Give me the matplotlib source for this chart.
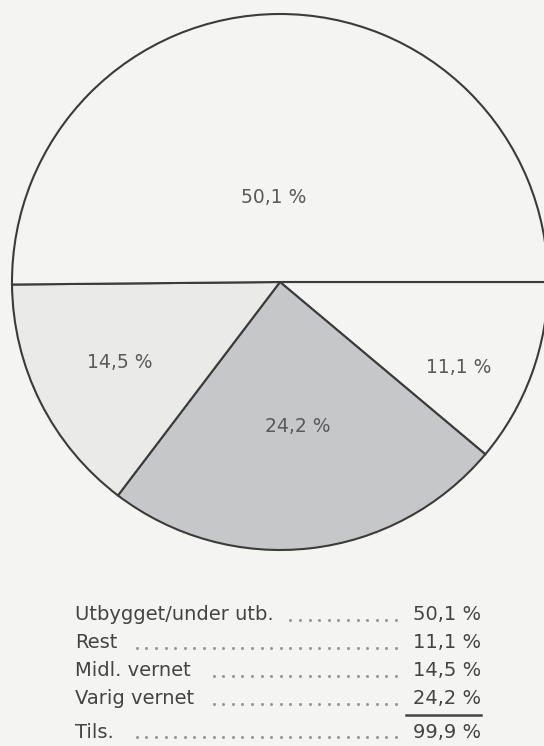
import numpy as np
import matplotlib
matplotlib.use("Agg")
import matplotlib.pyplot as plt

# shares in the order of the table under the pie
categories = ["Utbygget/under utb.", "Rest", "Midl. vernet", "Varig vernet"]
shares = [50.1, 11.1, 14.5, 24.2]
total_label = "Tils."
total_value = 99.9

# wedges are laid out clockwise from 3 o'clock in this order
pie_order = [1, 3, 2, 0]

W, H = 544, 746
bg = "#f4f4f2"
ink = "#444444"
wedge_colors = {"Utbygget/under utb.": bg, "Rest": bg,
                "Midl. vernet": "#eaeae8", "Varig vernet": "#c6c7c9"}
# label placement: fraction of the radius, and a turn off the wedge middle
label_dist = {"Utbygget/under utb.": 0.315, "Rest": 0.74,
              "Midl. vernet": 0.67, "Varig vernet": 0.545}
label_turn = {"Utbygget/under utb.": 4, "Rest": -5.5,
              "Midl. vernet": 0, "Varig vernet": 0.7}
font = "DejaVu Sans"


def pct(v):
    return ("%.1f %%" % v).replace(".", ",")


fig = plt.figure(figsize=(W / 100, H / 100), dpi=100, facecolor=bg)
ax = fig.add_axes([0, 0, 1, 1])
ax.set_facecolor(bg)

# pie, in pixel units with y pointing up
cx, cy, r = 280, H - 282, 268
names = [categories[i] for i in pie_order]
vals = [shares[i] for i in pie_order]
wedges, _ = ax.pie(vals, colors=[wedge_colors[n] for n in names],
                   startangle=0, counterclock=False, center=(cx, cy), radius=r,
                   wedgeprops=dict(edgecolor="#3b3b3b", linewidth=1.5))
ax.set_xlim(0, W)
ax.set_ylim(0, H)
ax.set_aspect("equal")
ax.axis("off")

for w, n, v in zip(wedges, names, vals):
    ang = np.deg2rad((w.theta1 + w.theta2) / 2 + label_turn[n])
    d = label_dist[n] * r
    ax.text(cx + d * np.cos(ang), cy + d * np.sin(ang), pct(v), ha="center",
            va="center", fontsize=13.5, color="#5a5a5a", family=font)

# table with dot leaders
row_y = [615, 643, 671, 699]
total_y = 732
x_left, x_right, dots_end, dot_step = 75, 481, 396, 9.6
renderer = fig.canvas.get_renderer()


def table_row(label, value, y):
    t = ax.text(x_left, H - y, label, ha="left", va="center", fontsize=14,
                color=ink, family=font)
    ax.text(x_right, H - y, pct(value), ha="right", va="center", fontsize=14,
            color=ink, family=font)
    bb = t.get_window_extent(renderer)
    xs = np.arange(dots_end, bb.x1 + 14, -dot_step)
    ax.plot(xs, np.full(len(xs), H - y - 5), ls="none", marker="o", ms=1.2,
            color="#999999")


for name, val, y in zip(categories, shares, row_y):
    table_row(name, val, y)
ax.plot([406, x_right], [H - 715, H - 715], color=ink, lw=1.8)
table_row(total_label, total_value, total_y)

fig.savefig("out.png", dpi=100, facecolor=bg)
